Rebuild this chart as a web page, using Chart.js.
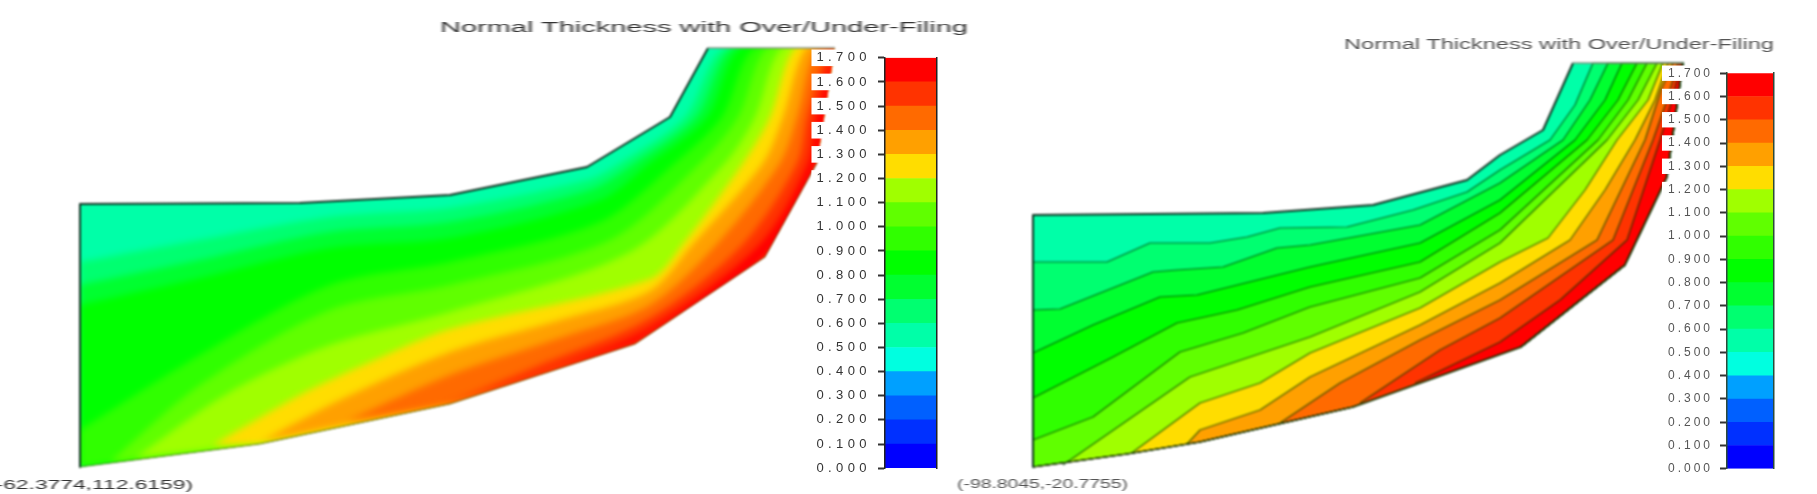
<!DOCTYPE html>
<html>
<head>
<meta charset="utf-8">
<title>Normal Thickness with Over/Under-Filing</title>
<script src="https://cdn.jsdelivr.net/npm/chart.js@4/dist/chart.umd.min.js"></script>
<style>
  html, body { margin: 0; padding: 0; background: #fff; overflow: hidden; }
  body { width: 1817px; height: 494px; position: relative; }
  canvas { position: absolute; filter: blur(0.8px); }
  canvas.bar { filter: blur(0.6px); }
  .txt {
    position: absolute; white-space: nowrap; transform-origin: 0 50%;
    font-family: "Liberation Sans", sans-serif; color: #333; filter: blur(0.7px);
  }
</style>
</head>
<body>
<canvas id="fieldLeft" width="850" height="494" style="left:0;top:0"></canvas>
<canvas id="fieldRight" width="760" height="494" style="left:1000px;top:0"></canvas>
<canvas id="barLeft" class="bar" width="135" height="440" style="left:810px;top:43px"></canvas>
<canvas id="barRight" class="bar" width="127" height="424" style="left:1655px;top:59px"></canvas>
<div class="txt" data-w="528" style="left:440px;top:19px;font-size:14px">Normal Thickness with Over/Under-Filing</div>
<div class="txt" data-w="430" style="left:1344px;top:36px;font-size:14px;color:#555">Normal Thickness with Over/Under-Filing</div>
<div class="txt" data-w="205" style="left:-12px;top:477px;font-size:13px">(-62.3774,112.6159)</div>
<div class="txt" data-w="171" style="left:957px;top:477px;font-size:12px;color:#555">(-98.8045,-20.7755)</div>
<script>
// colour bar
const tickLabels = ['0.000', '0.100', '0.200', '0.300', '0.400', '0.500', '0.600', '0.700', '0.800',
    '0.900', '1.000', '1.100', '1.200', '1.300', '1.400', '1.500', '1.600', '1.700'];
const bandSteps = [0.1, 0.1, 0.1, 0.1, 0.1, 0.1, 0.1, 0.1, 0.1, 0.1, 0.1, 0.1, 0.1, 0.1, 0.1, 0.1, 0.1];
const bandColors = ['#0000ff', '#0030ff', '#0060ff', '#00a0ff', '#00ffe0', '#00ffa8', '#00ff70', '#00ff30',
    '#00ff00', '#30ff00', '#60ff00', '#a0ff00', '#ffdd00', '#ffa000', '#ff6a00', '#ff3300', '#ff0000'];

// left field, lowest band in the picture is 0.5
const leftUpper = [[708, 48], [670, 117], [587, 167], [450, 195], [300, 203], [80, 204], [80, 467]];
const leftLower = [[835, 48], [817, 163], [765, 257], [635, 344], [450, 404], [260, 444], [80, 467]];
const leftContours = [
    [[80, 262], [200, 240], [330, 217], [450, 208], [587, 180], [620, 163], [685, 117], [725, 48]],
    [[80, 285], [200, 260], [330, 232], [450, 222], [590, 190], [635, 163], [696, 117], [733, 48]],
    [[80, 305], [200, 278], [330, 248], [450, 238], [600, 200], [650, 163], [707, 117], [741, 48]],
    [[80, 430], [200, 355], [330, 285], [450, 262], [600, 222], [675, 163], [722, 117], [755, 48]],
    [[110, 462], [200, 385], [330, 310], [450, 285], [610, 240], [700, 163], [738, 117], [768, 48]],
    [[135, 458], [230, 392], [330, 345], [450, 312], [630, 252], [725, 163], [755, 117], [782, 48]],
    [[213, 445], [300, 395], [370, 362], [450, 329], [650, 279], [683, 244], [743, 163], [770, 117], [795, 48]],
    [[262, 441], [340, 400], [450, 352], [560, 320], [650, 291], [693, 244], [763, 163], [783, 117], [806, 48]],
    [[347, 421], [450, 375], [560, 338], [650, 305], [717, 244], [780, 163], [797, 117], [816, 48]],
    [[445, 405], [540, 365], [650, 318], [743, 244], [797, 163], [807, 117], [828, 48]],
    [[560, 367], [650, 328], [760, 244], [808, 163], [816, 117], [834, 48]]
];

// right field
const rightUpper = [[1573, 63], [1543, 130], [1500, 155], [1467, 180], [1373, 205], [1263, 213], [1033, 215], [1033, 467]];
const rightLower = [[1683, 63], [1667, 177], [1625, 265], [1521, 347], [1353, 407], [1200, 442], [1127, 454], [1033, 467]];
const rightContours = [
    [[1033, 262], [1107, 262], [1150, 243], [1210, 243], [1247, 237], [1280, 228], [1347, 227], [1413, 210], [1467, 192], [1500, 170], [1550, 140], [1575, 105], [1593, 63]],
    [[1033, 310], [1060, 309], [1153, 272], [1177, 270], [1223, 267], [1277, 248], [1310, 245], [1420, 225], [1500, 183], [1563, 140], [1590, 100], [1608, 63]],
    [[1033, 353], [1093, 325], [1160, 297], [1197, 295], [1310, 267], [1420, 243], [1500, 200], [1575, 140], [1605, 100], [1622, 63]],
    [[1033, 398], [1113, 357], [1177, 323], [1237, 310], [1310, 287], [1420, 262], [1500, 213], [1587, 140], [1618, 100], [1637, 63]],
    [[1033, 440], [1093, 417], [1180, 352], [1243, 333], [1310, 307], [1420, 278], [1500, 230], [1598, 140], [1628, 100], [1647, 63]],
    [[1063, 465], [1190, 377], [1277, 348], [1310, 337], [1420, 292], [1500, 243], [1607, 140], [1638, 100], [1657, 63]],
    [[1133, 452], [1200, 403], [1260, 383], [1310, 353], [1420, 308], [1500, 262], [1548, 238], [1585, 190], [1617, 140], [1648, 100], [1663, 63]],
    [[1187, 444], [1200, 430], [1260, 410], [1310, 377], [1420, 325], [1500, 283], [1570, 240], [1605, 190], [1635, 140], [1655, 100], [1668, 63]],
    [[1280, 423], [1340, 383], [1420, 340], [1500, 300], [1597, 240], [1645, 140], [1661, 90], [1673, 63]],
    [[1360, 403], [1440, 350], [1500, 318], [1613, 240], [1653, 140], [1667, 100], [1678, 63]],
    [[1415, 383], [1500, 342], [1560, 300], [1627, 240], [1660, 140], [1672, 100], [1681, 63]]
];

const toPoints = list => list.map(p => ({ x: p[0], y: p[1] }));

// every band is filled from its contour down to the lower boundary, later ones paint over earlier ones
function fieldDatasets(upper, lower, contours, lineColor, lineWidth, tension, lowerColor) {
    const first = 5;
    const datasets = [];
    const whole = upper.slice().reverse().concat(lower);
    datasets.push({
        data: toPoints(whole), backgroundColor: bandColors[first], borderWidth: 0, fill: 'shape', order: 50
    });
    contours.forEach((contour, i) => {
        const start = contour[0][0];
        const shape = contour.concat(lower.filter(p => p[0] >= start));
        datasets.push({
            data: toPoints(shape),
            backgroundColor: bandColors[first + 1 + i],
            borderColor: lineColor,
            borderWidth: lineWidth,
            tension: tension,
            fill: 'shape',
            order: 40 - i
        });
    });
    datasets.push({
        data: toPoints(upper), borderColor: '#103020', borderWidth: 2, fill: false, order: 1
    });
    datasets.push({
        data: toPoints(lower.slice(1)), borderColor: lowerColor, borderWidth: 1, fill: false, order: 2
    });
    datasets.push({
        data: toPoints([upper[0], lower[0]]), borderColor: '#7f8f7f', borderWidth: 1.5, fill: false, order: 0
    });
    return datasets;
}

// soft band edges inside the field outline, the fills run in filler's beforeDatasetsDraw
function softBands(outline, px) {
    return {
        id: 'softBands',
        beforeDraw(chart) {
            const ctx = chart.ctx;
            ctx.save();
            ctx.beginPath();
            outline.forEach((p, i) => {
                const x = chart.scales.x.getPixelForValue(p[0]);
                const y = chart.scales.y.getPixelForValue(p[1]);
                if (i === 0) ctx.moveTo(x, y); else ctx.lineTo(x, y);
            });
            ctx.closePath();
            ctx.fillStyle = bandColors[5];
            ctx.fill();
            ctx.clip();
            ctx.filter = 'blur(' + px + 'px)';
        },
        beforeDatasetsDraw(chart) {
            chart.ctx.restore();
        }
    };
}

function drawField(id, xMin, xMax, datasets, outline, px) {
    new Chart(document.getElementById(id), {
        type: 'scatter',
        data: { datasets: datasets },
        plugins: [softBands(outline, px)],
        options: {
            responsive: false,
            animation: false,
            showLine: true,
            layout: { padding: 0 },
            elements: { point: { radius: 0 }, line: { tension: 0, borderJoinStyle: 'round' } },
            plugins: {
                legend: { display: false },
                tooltip: { enabled: false },
                filler: { drawTime: 'beforeDatasetsDraw' }
            },
            scales: {
                x: { type: 'linear', min: xMin, max: xMax, display: false },
                y: { type: 'linear', min: 0, max: 494, reverse: true, display: false }
            }
        }
    });
}

// canvas text does not take css letter spacing, so set it on the context
const spacingPlugin = {
    id: 'spacing',
    beforeLayout(chart, args, opts) { chart.ctx.letterSpacing = opts.value; },
    beforeDraw(chart, args, opts) { chart.ctx.letterSpacing = opts.value; }
};

function drawBar(id, axisWidth, fontSize, spacing, textColor, edgeColor, pad) {
    new Chart(document.getElementById(id), {
        type: 'bar',
        data: {
            labels: [''],
            datasets: bandSteps.map((step, i) => ({
                data: [step], backgroundColor: bandColors[i], borderWidth: 0,
                barPercentage: 1, categoryPercentage: 1
            }))
        },
        plugins: [spacingPlugin],
        options: {
            responsive: false,
            animation: false,
            layout: { autoPadding: false, padding: { top: 10, bottom: 10, right: 8, left: 0 } },
            plugins: { legend: { display: false }, tooltip: { enabled: false }, spacing: { value: spacing } },
            scales: {
                x: { stacked: true, display: false },
                y: {
                    stacked: true, min: 0, max: 1.7, position: 'left',
                    afterFit(scale) { scale.width = axisWidth; },
                    border: { display: true, color: edgeColor, width: 1.5, z: 1 },
                    grid: { drawOnChartArea: false, tickLength: 7, tickColor: '#333', tickWidth: 2 },
                    ticks: {
                        stepSize: 0.1, autoSkip: false, padding: 7, color: textColor,
                        font: { family: 'Liberation Sans', size: fontSize },
                        showLabelBackdrop: true, backdropColor: '#fff', backdropPadding: pad,
                        callback: (v, i) => tickLabels[i]
                    }
                },
                y2: {
                    min: 0, max: 1.7, position: 'right',
                    afterFit(scale) { scale.width = 0; },
                    border: { display: true, color: edgeColor, width: 1.5, z: 1 },
                    grid: { display: false },
                    ticks: { display: false }
                }
            }
        }
    });
}

drawField('fieldLeft', 0, 850,
    fieldDatasets(leftUpper, leftLower, leftContours, 'rgba(0,0,0,0)', 0, 0.3, 'rgba(70,40,0,0.6)'),
    leftUpper.slice().reverse().concat(leftLower), 3);
drawField('fieldRight', 1000, 1760,
    fieldDatasets(rightUpper, rightLower, rightContours, 'rgba(0,60,0,0.75)', 1.2, 0, 'rgba(70,40,0,0.6)'),
    rightUpper.slice().reverse().concat(rightLower), 0);
drawBar('barLeft', 75, 13, '4.4px', '#333', '#222', { top: 0.5, bottom: 0.5, left: 5, right: 2 });
drawBar('barRight', 72, 12, '3px', '#555', '#2c4a3a', { top: 0.5, bottom: 0.5, left: 6, right: 2 });

// the reference text is stretched sideways, fit each label to its measured width
document.querySelectorAll('.txt').forEach(el => {
    const natural = el.getBoundingClientRect().width;
    el.style.transform = 'scaleX(' + (el.dataset.w / natural) + ')';
});
</script>
</body>
</html>
